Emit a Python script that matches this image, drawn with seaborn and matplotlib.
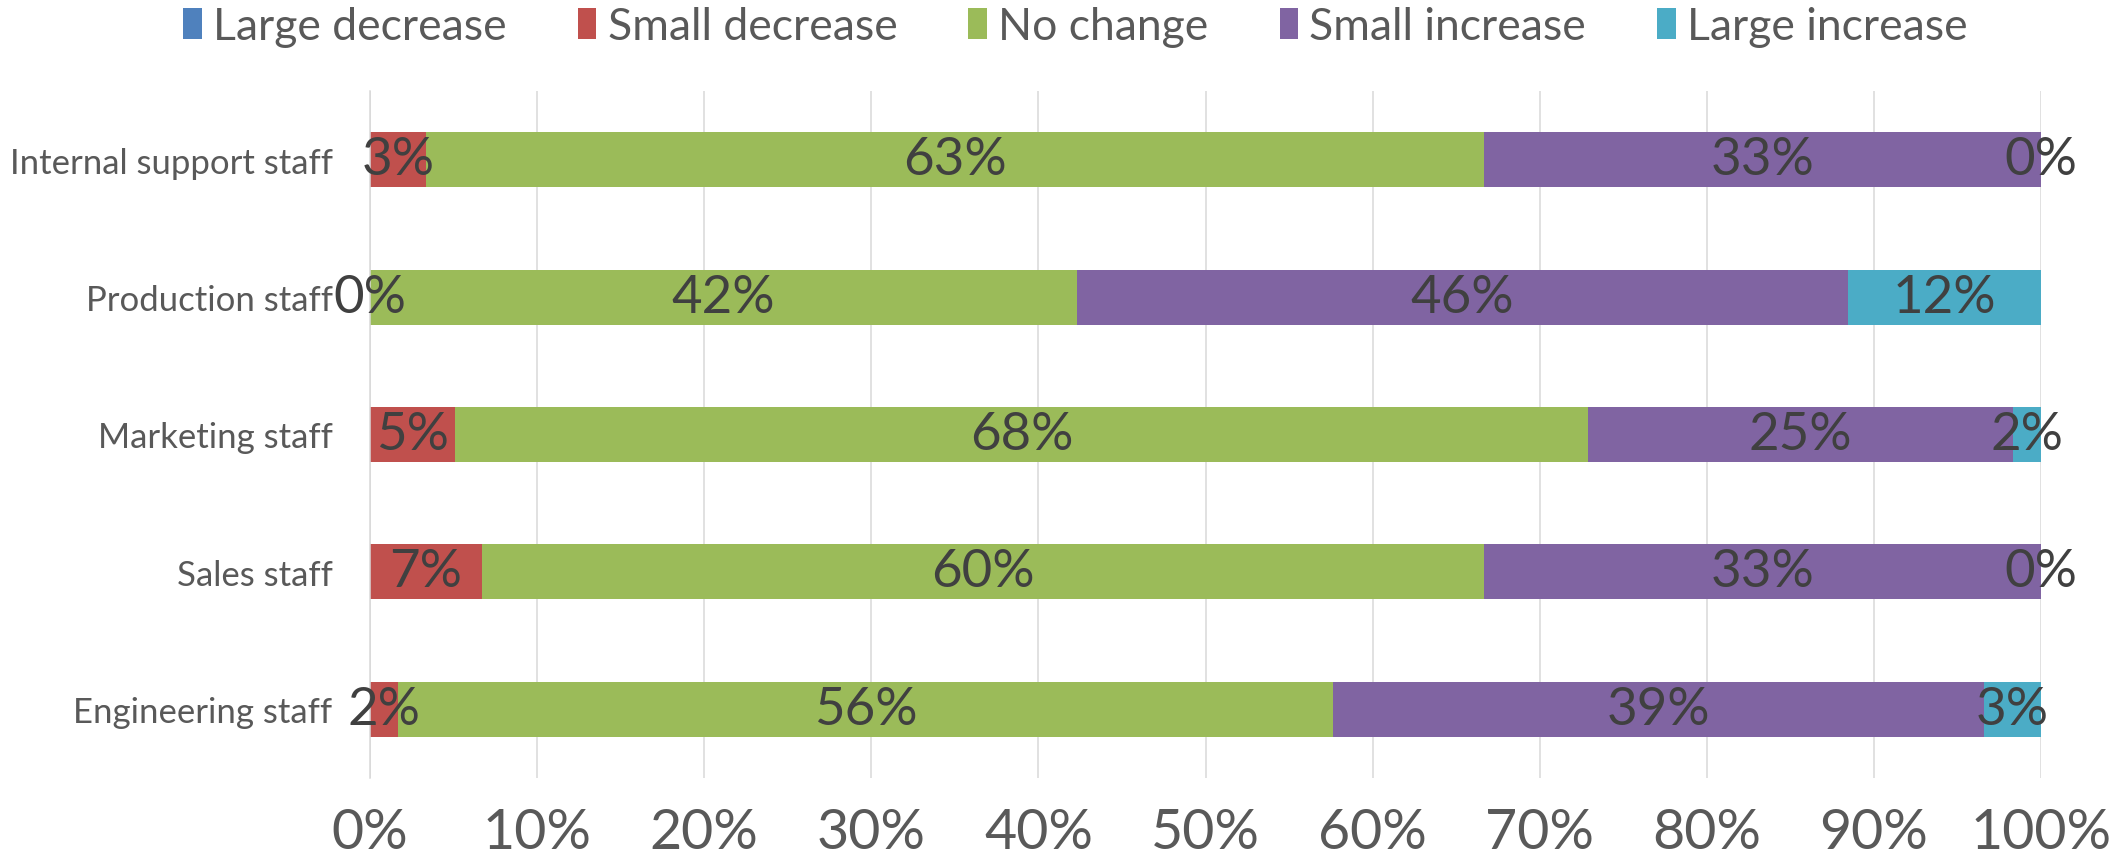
import matplotlib
matplotlib.use("Agg")
import matplotlib.pyplot as plt
import seaborn as sns
import pandas as pd
import numpy as np
from matplotlib.patches import Patch

# ---- data ----
categories = ["Internal support staff", "Production staff", "Marketing staff",
              "Sales staff", "Engineering staff"]
series_names = ["Large decrease", "Small decrease", "No change",
                "Small increase", "Large increase"]
large_decrease = [0.0, 0.0, 0.0, 0.0, 0.0]
small_decrease = [3.33, 0.0, 5.08, 6.67, 1.69]
no_change = [63.33, 42.31, 67.80, 60.00, 55.93]
small_increase = [33.33, 46.15, 25.42, 33.33, 38.98]
large_increase = [0.0, 11.54, 1.69, 0.0, 3.39]
series_labelled = [False, True, True, True, True]
x_ticks = [0, 10, 20, 30, 40, 50, 60, 70, 80, 90, 100]
x_tick_labels = [f"{t}%" for t in x_ticks]

colors = ["#4F81BD", "#C0504D", "#9BBB59", "#8064A2", "#4BACC6"]

sns.set_theme(style="white")
plt.rcParams["font.family"] = ["Lato", "DejaVu Sans"]

fig = plt.figure(figsize=(21.17, 8.62), dpi=100)
ax = fig.add_axes([0.1748, 0.0963, 0.7893, 0.797])

series = [large_decrease, small_decrease, no_change, small_increase, large_increase]
df = pd.DataFrame({"category": categories})
for name, vals in zip(series_names, series):
    df[name] = vals
cum = df[series_names].cumsum(axis=1)

# draw cumulative bars from the last series to the first so they stack visually
for name, col in reversed(list(zip(series_names, colors))):
    sns.barplot(x=cum[name], y=df["category"], orient="h", color=col,
                width=0.4, saturation=1, linewidth=0, errorbar=None, ax=ax)

# data labels centred in segments
for si, name in enumerate(series_names):
    if not series_labelled[si]:
        continue
    for ci in range(len(categories)):
        v = df.loc[ci, name]
        center = cum.loc[ci, name] - v / 2
        ax.text(center, ci, f"{v:.0f}%", ha="center", va="center",
                fontsize=38, color="#404040")

ax.set_xlim(0, 100)
ax.set_ylim(len(categories) - 0.5, -0.5)
ax.set_xticks(x_ticks)
ax.set_xticklabels(x_tick_labels)
ax.set_xlabel("")
ax.set_ylabel("")
ax.grid(axis="x", color="#D9D9D9", linewidth=1.1)
ax.grid(axis="y", visible=False)
ax.set_axisbelow(True)
for s in ["top", "right", "bottom"]:
    ax.spines[s].set_visible(False)
ax.spines["left"].set_color("#D9D9D9")
ax.spines["left"].set_linewidth(1.1)

ax.tick_params(axis="x", length=0, pad=21, labelsize=40, labelcolor="#595959")
ax.tick_params(axis="y", which="major", length=0, pad=27, labelsize=25,
               labelcolor="#595959")
ax.set_yticks(np.arange(-0.5, len(categories) + 0.5, 1.0), minor=True)
ax.tick_params(axis="y", which="minor", length=7, width=1.1, color="#D9D9D9",
               direction="out")

handles = [Patch(facecolor=c, edgecolor="none") for c in colors]
fig.legend(handles, series_names, loc="center", bbox_to_anchor=(0.508, 0.968),
           ncol=5, frameon=False, fontsize=32, handlelength=0.42,
           handleheight=0.7, handletextpad=0.25, columnspacing=1.6,
           labelcolor="#595959")

fig.savefig("out.png", dpi=100)
